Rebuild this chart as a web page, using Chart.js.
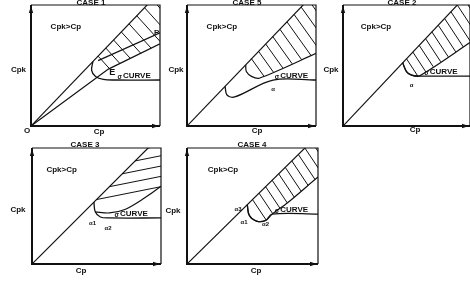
<!DOCTYPE html>
<html><head><meta charset="utf-8">
<script src="https://cdn.jsdelivr.net/npm/chart.js@4/dist/chart.umd.min.js"></script>
<style>
html,body{margin:0;padding:0;background:#fff;width:470px;height:284px;overflow:hidden}
canvas{position:absolute;left:0;top:0}
</style></head><body>
<canvas id="c0" width="470" height="284"></canvas>
<canvas id="c1" width="470" height="284"></canvas>
<canvas id="c2" width="470" height="284"></canvas>
<canvas id="c3" width="470" height="284"></canvas>
<canvas id="c4" width="470" height="284"></canvas>
<script>
// ---------- data (fractions of each panel's Cp / Cpk range) ----------
const caseTitles = ["CASE 1", "CASE 5", "CASE 2", "CASE 3", "CASE 4"];
const cpkEqualsCp = [[0, 0], [1.2, 1.333]];
// CASE 1
const case1Lower = [[0, 0], [0.6, 0.47], [1, 0.68], [1.3, 0.84]];
const case1PLine = [[0.52, 0.54], [1, 0.77]];
const case1Sigma = [[0.48, 0.533], [0.47, 0.46], [0.5, 0.41], [0.56, 0.385], [0.65, 0.38], [1, 0.38]];
const case1Hatch = [0.52, 0.58, 0.64, 0.70, 0.76, 0.82, 0.88, 0.94, 1.0, 1.06, 1.12];
// CASE 5
const case5Sigma = [[0.295, 0.328], [0.31, 0.256], [0.37, 0.24], [0.667, 0.38], [1, 0.38]];
const case5Band = [[0.455, 0.505], [0.46, 0.45], [0.5, 0.41], [0.56, 0.395], [1, 0.6], [1.3, 0.74]];
const case5Hatch = [0.5, 0.555, 0.61, 0.665, 0.72, 0.775, 0.83, 0.885, 0.94, 0.995, 1.05, 1.105];
// CASE 2
const case2Sigma = [[0.47, 0.522], [0.5, 0.45], [0.54, 0.42], [0.6, 0.413], [1, 0.413]];
const case2Band = [[0.47, 0.522], [0.5, 0.45], [0.54, 0.42], [0.6, 0.413], [1, 0.69], [1.3, 0.9]];
const case2Hatch = [0.5, 0.55, 0.6, 0.65, 0.7, 0.75, 0.8, 0.85, 0.9, 0.95, 1.0, 1.05, 1.1];
// CASE 3
const case3Sigma = [[0.48, 0.533], [0.49, 0.45], [0.53, 0.405], [0.6, 0.397], [1, 0.397]];
const case3Band = [[0.49, 0.45], [0.6, 0.44], [0.72, 0.47], [0.86, 0.56], [1, 0.67], [1.2, 0.85]];
const case3Hatch = [0.5, 0.6, 0.7, 0.8, 0.9, 1.0, 1.1];
// CASE 4
const case4Sigma = [[0.46, 0.511], [0.475, 0.42], [0.53, 0.37], [0.6, 0.375], [0.65, 0.43], [1, 0.43]];
const case4Band = [[0.46, 0.511], [0.475, 0.42], [0.53, 0.37], [0.6, 0.375], [0.65, 0.43], [0.77, 0.53], [1, 0.75], [1.2, 0.93]];
const case4Hatch = [0.5, 0.55, 0.6, 0.65, 0.7, 0.75, 0.8, 0.85, 0.9, 0.95, 1.0, 1.05, 1.1];

// ---------- layout ----------
const FONT = '"Liberation Sans", Arial, sans-serif';
const INK = '#111';
const panels = [
  {box: [31, 160, 5, 126], sigma: case1Sigma, band: case1Lower, hatch: case1Hatch, dir: [1, 1.1], extra: [case1PLine, case1Lower],
   title: [91, 4.5], cpk: [18.5, 70], cp: [99, 132], origin: true,
   inner: [["Cpk>Cp", 0.27, 0.82, 8], ["E", 0.63, 0.446, 9], ["P", 0.975, 0.77, 8]], sigLabel: 0.67, sigY: 0.38, alphas: []},
  {box: [187, 316, 5, 126], sigma: case5Sigma, band: case5Band, hatch: case5Hatch, dir: [1, 1.4], extra: [case5Band],
   title: [247, 4.5], cpk: [176, 70], cp: [257, 131],
   inner: [["Cpk>Cp", 0.27, 0.82, 8]], sigLabel: 0.68, sigY: 0.38, alphas: [["α", 0.667, 0.3]]},
  {box: [343, 472, 5, 126], sigma: case2Sigma, band: case2Band, hatch: case2Hatch, dir: [1, 1.5], extra: [case2Band],
   title: [402, 4.5], cpk: [331, 70], cp: [415, 130],
   inner: [["Cpk>Cp", 0.26, 0.82, 8]], sigLabel: 0.64, sigY: 0.413, alphas: [["α", 0.54, 0.34]]},
  {box: [32, 161, 148, 264], sigma: case3Sigma, band: case3Band, hatch: case3Hatch, dir: [1, -0.2], extra: [case3Band],
   title: [85, 146.5], cpk: [18, 210], cp: [81, 271],
   inner: [["Cpk>Cp", 0.23, 0.81, 8]], sigLabel: 0.64, sigY: 0.397, alphas: [["α1", 0.47, 0.353], ["α2", 0.59, 0.31]]},
  {box: [187, 318, 148, 264], sigma: case4Sigma, band: case4Band, hatch: case4Hatch, dir: [1, 1.5], extra: [case4Band],
   title: [252, 146.5], cpk: [173, 211], cp: [256, 271],
   inner: [["Cpk>Cp", 0.275, 0.81, 8]], sigLabel: 0.67, sigY: 0.43, alphas: [["α3", 0.39, 0.47], ["α1", 0.435, 0.36], ["α2", 0.6, 0.345]]}
];

function pts(arr) { return arr.map(p => ({x: p[0], y: p[1]})); }
function onDiag(x) { // point on the Cpk = Cp line
  const a = cpkEqualsCp[0], b = cpkEqualsCp[1];
  return [x, a[1] + (b[1] - a[1]) * (x - a[0]) / (b[0] - a[0])];
}
function hatchSegments(p) {
  const W = p.box[1] - p.box[0], H = p.box[3] - p.box[2];
  const d = [p.dir[0] / W, -p.dir[1] / H];
  const out = [];
  p.hatch.forEach(sx => {
    const s = onDiag(sx);
    let best = null;
    for (let i = 0; i < p.band.length - 1; i++) {
      const a = p.band[i], b = p.band[i + 1];
      const ex = b[0] - a[0], ey = b[1] - a[1];
      const den = d[0] * ey - d[1] * ex;
      if (Math.abs(den) < 1e-12) continue;
      const t = ((a[0] - s[0]) * ey - (a[1] - s[1]) * ex) / den;
      const u = ((a[0] - s[0]) * d[1] - (a[1] - s[1]) * d[0]) / den;
      if (t > 1e-6 && u >= 0 && u <= 1 && (best === null || t < best)) best = t;
    }
    if (best === null) best = 400;
    out.push({x: s[0], y: s[1]});
    out.push({x: s[0] + d[0] * best, y: s[1] + d[1] * best});
    out.push({x: s[0] + d[0] * best, y: null});
  });
  return out;
}

const decor = {
  id: 'decor',
  afterDraw(chart, args, o) {
    const p = o.panel, ctx = chart.ctx, ca = chart.chartArea;
    const xs = chart.scales.x, ys = chart.scales.y;
    ctx.save();
    ctx.strokeStyle = INK; ctx.fillStyle = INK;
    // frame
    ctx.lineWidth = 1.2;
    ctx.beginPath();
    ctx.moveTo(ca.left, ca.top); ctx.lineTo(ca.right, ca.top); ctx.lineTo(ca.right, ca.bottom);
    ctx.stroke();
    ctx.lineWidth = 2;
    ctx.beginPath();
    ctx.moveTo(ca.left, ca.top); ctx.lineTo(ca.left, ca.bottom); ctx.lineTo(ca.right, ca.bottom);
    ctx.stroke();
    // arrow heads
    ctx.beginPath();
    ctx.moveTo(ca.left, ca.top + 1); ctx.lineTo(ca.left - 2.2, ca.top + 8); ctx.lineTo(ca.left + 2.2, ca.top + 8); ctx.closePath(); ctx.fill();
    ctx.beginPath();
    ctx.moveTo(ca.right - 1, ca.bottom); ctx.lineTo(ca.right - 8, ca.bottom - 2.2); ctx.lineTo(ca.right - 8, ca.bottom + 2.2); ctx.closePath(); ctx.fill();
    // outer text
    ctx.textAlign = 'center'; ctx.textBaseline = 'alphabetic';
    ctx.font = 'bold 8px ' + FONT;
    ctx.fillText(o.title, p.title[0], p.title[1]);
    ctx.textBaseline = 'middle';
    ctx.fillText('Cpk', p.cpk[0], p.cpk[1]);
    ctx.fillText('Cp', p.cp[0], p.cp[1]);
    if (p.origin) ctx.fillText('O', 27, 131);
    // inner text
    p.inner.forEach(t => {
      ctx.font = 'bold ' + t[3] + 'px ' + FONT;
      ctx.fillText(t[0], xs.getPixelForValue(t[1]), ys.getPixelForValue(t[2]));
    });
    ctx.font = 'bold 6px ' + FONT;
    p.alphas.forEach(t => ctx.fillText(t[0], xs.getPixelForValue(t[1]), ys.getPixelForValue(t[2])));
    // sigma curve label
    ctx.textAlign = 'left'; ctx.textBaseline = 'bottom';
    const lx = xs.getPixelForValue(p.sigLabel), ly = ys.getPixelForValue(p.sigY) - 0.5;
    ctx.font = 'bold 6.5px ' + FONT;
    ctx.fillText('σ', lx, ly + 1);
    ctx.font = 'bold 8px ' + FONT;
    ctx.fillText('CURVE', lx + 5.5, ly);
    ctx.restore();
  }
};

panels.forEach((p, i) => {
  const line = (data, w, tension) => ({data, showLine: true, borderColor: INK, borderWidth: w, pointRadius: 0, tension: tension || 0, spanGaps: false});
  const datasets = [
    line(pts(cpkEqualsCp), 1.2),
    line(pts(p.sigma), 1.3, 0.35),
    line(hatchSegments(p), 1.0)
  ];
  p.extra.forEach(e => datasets.push(line(pts(e), 1.2, e === case1Lower || e === case1PLine ? 0 : 0.3)));
  new Chart(document.getElementById('c' + i), {
    type: 'scatter',
    data: {datasets},
    options: {
      responsive: false, animation: false, devicePixelRatio: 1,
      layout: {padding: {left: p.box[0], right: 470 - p.box[1], top: p.box[2], bottom: 284 - p.box[3]}},
      scales: {
        x: {type: 'linear', min: 0, max: 1, display: false},
        y: {type: 'linear', min: 0, max: 1, display: false}
      },
      plugins: {legend: {display: false}, tooltip: {enabled: false}, title: {display: false},
        decor: {panel: p, title: caseTitles[i]}}
    },
    plugins: [decor]
  });
});
</script>
</body></html>
